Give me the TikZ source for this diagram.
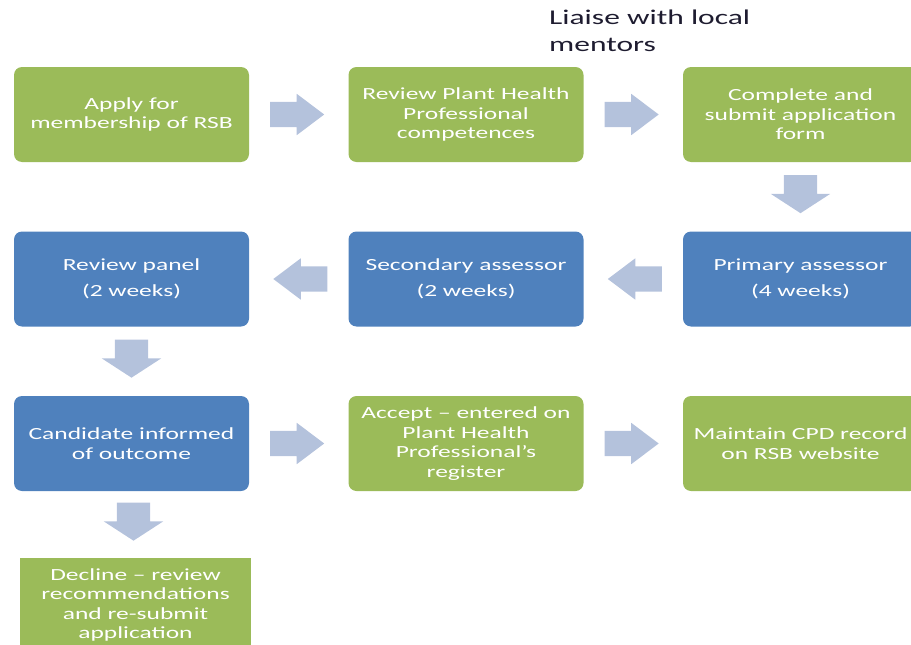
\documentclass[tikz,border=0pt]{standalone}
\usepackage{fontspec}
\newfontfamily\boxfont{Carlito}[FakeStretch=1.5]
\usetikzlibrary{shapes.arrows,calc}
\definecolor{stepgreen}{RGB}{155,187,89}
\definecolor{stepblue}{RGB}{79,129,189}
\definecolor{arrowgrey}{RGB}{180,194,220}
\definecolor{titleink}{RGB}{30,28,48}
\tikzset{
  box/.style={rounded corners=8pt, minimum width=235pt, minimum height=95pt,
    inner sep=0pt, align=center, text=white,
    font=\boxfont\fontsize{17}{19.5}\selectfont},
  greenbox/.style={box, fill=stepgreen},
  bluebox/.style={box, fill=stepblue},
  blockarrow/.style={single arrow, fill=arrowgrey, inner sep=0pt},
  harrow/.style={blockarrow, inner ysep=12.5pt, minimum height=54pt,
    single arrow head extend=8pt, single arrow tip angle=74},
  rarrow/.style={harrow, xshift=-10pt},
  larrow/.style={harrow, rotate=180, xshift=-10pt},
  varrow/.style={blockarrow, inner ysep=16.5pt, minimum height=38pt,
    single arrow head extend=13pt, single arrow tip angle=114,
    rotate=-90, xshift=-8pt}
}
\begin{document}
\begin{tikzpicture}[x=1pt, y=-1pt]
    \useasboundingbox (0,0) rectangle (911,645);
    % boxes
    \node[greenbox] (apply) at (131.5,114.5) {Apply for\\membership of RSB};
    \node[greenbox] (compet) at (466,114.5) {Review Plant Health\\Professional\\competences};
    \node[greenbox] (submit) at (800.5,114.5) {Complete and\\submit application\\form};
    \node[bluebox] (primary) at (800.5,279) {Primary assessor\\[6pt](4 weeks)};
    \node[bluebox] (secondary) at (466,279) {Secondary assessor\\[6pt](2 weeks)};
    \node[bluebox] (panel) at (131.5,279) {Review panel\\[6pt](2 weeks)};
    \node[bluebox] (informed) at (131.5,443.5) {Candidate informed\\of outcome};
    \node[greenbox] (accept) at (466,443.5) {Accept – entered on\\Plant Health\\Professional’s\\register};
    \node[greenbox] (cpd) at (800.5,443.5) {Maintain CPD record\\on RSB website};
    \node[greenbox, sharp corners, minimum width=231pt] (decline) at (135.5,605)
        {Decline – review\\recommendations\\and re-submit\\application};
    \node[anchor=north west, inner sep=0pt, align=left, text=titleink,
        font=\boxfont\fontsize{21}{27}\selectfont] (mentors) at (549,10)
        {Liaise with local\\mentors};
    % block arrows
    \node[rarrow] (a1) at ($(apply.east)!0.5!(compet.west)$) {};
    \node[rarrow] (a2) at ($(compet.east)!0.5!(submit.west)$) {};
    \node[varrow] (a3) at ($(submit.south)!0.5!(primary.north)$) {};
    \node[larrow] (a4) at ($(primary.west)!0.5!(secondary.east)$) {};
    \node[larrow] (a5) at ($(secondary.west)!0.5!(panel.east)$) {};
    \node[varrow] (a6) at ($(panel.south)!0.5!(informed.north)$) {};
    \node[rarrow] (a7) at ($(informed.east)!0.5!(accept.west)$) {};
    \node[rarrow] (a8) at ($(accept.east)!0.5!(cpd.west)$) {};
    \node[varrow] (a9) at ($(informed.south)!0.5!(decline.north)$) {};
\end{tikzpicture}
\end{document}
